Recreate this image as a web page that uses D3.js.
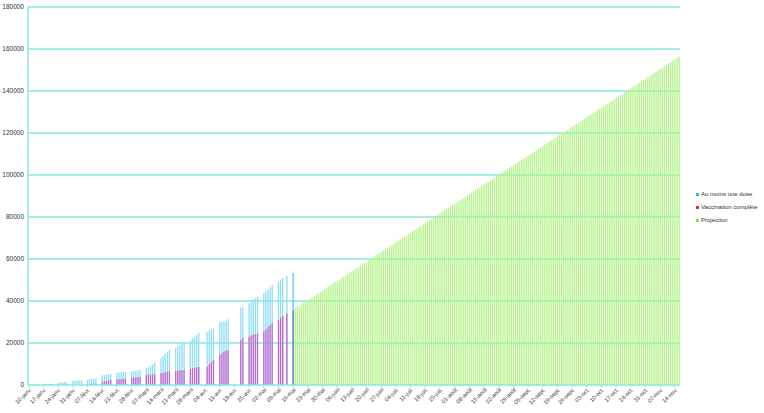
<!DOCTYPE html>
<html>
<head>
<meta charset="utf-8">
<script src="https://cdn.jsdelivr.net/npm/d3@7"></script>
<style>
  body { margin: 0; background: #fff; }
  svg { display: block; font-family: "Liberation Sans", "DejaVu Sans", sans-serif; }
</style>
</head>
<body>
<div id="chart"></div>
<script>
// jours avec au moins une donnée publiée
const doseDates = [
  "2021-01-10", "2021-01-11", "2021-01-12", "2021-01-13", "2021-01-14",
  "2021-01-17", "2021-01-18", "2021-01-19", "2021-01-20", "2021-01-21",
  "2021-01-24", "2021-01-25", "2021-01-26", "2021-01-27", "2021-01-28",
  "2021-01-31", "2021-02-01", "2021-02-02", "2021-02-03", "2021-02-04",
  "2021-02-07", "2021-02-08", "2021-02-09", "2021-02-10", "2021-02-11",
  "2021-02-14", "2021-02-15", "2021-02-16", "2021-02-17", "2021-02-18",
  "2021-02-21", "2021-02-22", "2021-02-23", "2021-02-24", "2021-02-25",
  "2021-02-28", "2021-03-01", "2021-03-02", "2021-03-03", "2021-03-04",
  "2021-03-07", "2021-03-08", "2021-03-09", "2021-03-10", "2021-03-11",
  "2021-03-14", "2021-03-15", "2021-03-16", "2021-03-17", "2021-03-18",
  "2021-03-21", "2021-03-22", "2021-03-23", "2021-03-24", "2021-03-25",
  "2021-03-28", "2021-03-29", "2021-03-30", "2021-03-31", "2021-04-01",
  "2021-04-05", "2021-04-06", "2021-04-07", "2021-04-08",
  "2021-04-11", "2021-04-12", "2021-04-13", "2021-04-14", "2021-04-15",
  "2021-04-21", "2021-04-22",
  "2021-04-25", "2021-04-26", "2021-04-27", "2021-04-28", "2021-04-29",
  "2021-05-02", "2021-05-03", "2021-05-04", "2021-05-05", "2021-05-06",
  "2021-05-09", "2021-05-10", "2021-05-11", "2021-05-13",
  "2021-05-16"
];

const auMoinsUneDose = [
  50, 80, 120, 150, 200,
  300, 380, 450, 520, 600,
  1000, 1150, 1300, 1450, 1550,
  2000, 2100, 2200, 2300, 2400,
  2700, 2800, 2950, 3050, 3150,
  4600, 4800, 5000, 5100, 5300,
  5800, 5900, 6000, 6100, 6200,
  6600, 6700, 6800, 6900, 7200,
  8100, 8600, 9200, 9800, 10500,
  12900, 13800, 14800, 15700, 16700,
  17600, 18300, 19000, 19800, 20500,
  21400, 22200, 23000, 23900, 24800,
  25400, 25900, 26500, 27000,
  29700, 30000, 30200, 30800, 31300,
  36800, 37300,
  39000, 39800, 40600, 41300, 42000,
  43800, 44700, 45700, 46600, 47600,
  49200, 50000, 51000, 52000,
  53300
];

const vaccinationComplete = [
  0, 0, 0, 0, 0,
  0, 0, 0, 0, 0,
  0, 0, 0, 0, 0,
  0, 0, 0, 0, 0,
  300, 400, 500, 600, 700,
  1500, 1800, 2000, 2200, 2400,
  2600, 2700, 2800, 2900, 3000,
  3300, 3500, 3600, 3700, 3800,
  4600, 4800, 5000, 5100, 5200,
  5700, 5900, 6100, 6300, 6500,
  6700, 6800, 6900, 7000, 7100,
  7600, 7900, 8100, 8400, 8600,
  8700, 9800, 10900, 11900,
  14300, 15000, 15900, 16300, 16700,
  21400, 22400,
  23000, 23500, 24000, 24300, 24600,
  25400, 26500, 27500, 28500, 29500,
  31000, 32000, 33000, 34000,
  35500
];

// projection quotidienne du 17 mai au 16 nov.
const projectionStart = "2021-05-17";
const projection = [
  36500, 37155, 37810, 38465, 39120, 39775, 40430, 41085, 41740, 42395,
  43050, 43705, 44360, 45015, 45670, 46325, 46980, 47635, 48290, 48945,
  49600, 50255, 50910, 51565, 52220, 52875, 53530, 54185, 54840, 55495,
  56150, 56805, 57460, 58115, 58770, 59425, 60080, 60735, 61390, 62045,
  62700, 63355, 64010, 64665, 65320, 65975, 66630, 67285, 67940, 68595,
  69250, 69905, 70560, 71215, 71870, 72525, 73180, 73835, 74490, 75145,
  75800, 76455, 77110, 77765, 78420, 79075, 79730, 80385, 81040, 81695,
  82350, 83005, 83660, 84315, 84970, 85625, 86280, 86935, 87590, 88245,
  88900, 89555, 90210, 90865, 91520, 92175, 92830, 93485, 94140, 94795,
  95450, 96105, 96760, 97415, 98070, 98725, 99380, 100035, 100690, 101345,
  102000, 102655, 103310, 103965, 104620, 105275, 105930, 106585, 107240, 107895,
  108550, 109205, 109860, 110515, 111170, 111825, 112480, 113135, 113790, 114445,
  115100, 115755, 116410, 117065, 117720, 118375, 119030, 119685, 120340, 120995,
  121650, 122305, 122960, 123615, 124270, 124925, 125580, 126235, 126890, 127545,
  128200, 128855, 129510, 130165, 130820, 131475, 132130, 132785, 133440, 134095,
  134750, 135405, 136060, 136715, 137370, 138025, 138680, 139335, 139990, 140645,
  141300, 141955, 142610, 143265, 143920, 144575, 145230, 145885, 146540, 147195,
  147850, 148505, 149160, 149815, 150470, 151125, 151780, 152435, 153090, 153745,
  154400, 155055, 155710, 156365
];

const xTickLabels = [
  "10-janv.", "17-janv.", "24-janv.", "31-janv.", "07-févr.", "14-févr.", "21-févr.",
  "28-févr.", "07-mars", "14-mars", "21-mars", "28-mars", "04-avr.", "11-avr.",
  "18-avr.", "25-avr.", "02-mai", "09-mai", "16-mai", "23-mai", "30-mai",
  "06-juin", "13-juin", "20-juin", "27-juin", "04-juil.", "11-juil.", "18-juil.",
  "25-juil.", "01-août", "08-août", "15-août", "22-août", "29-août", "05-sept.",
  "12-sept.", "19-sept.", "26-sept.", "03-oct.", "10-oct.", "17-oct.", "24-oct.",
  "31-oct.", "07-nov.", "14-nov."
];

const yTicks = [0, 20000, 40000, 60000, 80000, 100000, 120000, 140000, 160000, 180000];

const legendItems = [
  { label: "Au moins une dose", color: "#3cb4ec" },
  { label: "Vaccination complète", color: "#e8234e" },
  { label: "Projection", color: "#8fe043" }
];

const width = 764, height = 413;
const margin = { left: 28, right: 84, top: 7, bottom: 28 };

const parse = d3.utcParse("%Y-%m-%d");
const firstDay = parse("2021-01-10");
const projDates = d3.utcDay.range(parse(projectionStart), d3.utcDay.offset(parse(projectionStart), projection.length));
const allDays = d3.utcDay.range(firstDay, d3.utcDay.offset(projDates[projDates.length - 1], 1));

const x = d3.scaleBand()
    .domain(allDays.map(d => +d))
    .range([margin.left, width - margin.right])
    .paddingInner(0.38)
    .paddingOuter(0.1);

const y = d3.scaleLinear()
    .domain([0, 180000])
    .range([height - margin.bottom, margin.top]);

const svg = d3.select("#chart").append("svg")
    .attr("width", width)
    .attr("height", height);

const gridColor = "#86e8e0";

// grille horizontale
svg.append("g")
  .selectAll("line")
  .data(yTicks.slice(1))
  .enter()
  .append("line")
    .attr("x1", margin.left)
    .attr("x2", width - margin.right)
    .attr("y1", d => y(d))
    .attr("y2", d => y(d))
    .attr("stroke", gridColor)
    .attr("stroke-width", 1.4);

const doses = doseDates.map((d, i) => ({ date: parse(d), dose: auMoinsUneDose[i], complete: vaccinationComplete[i] }));
const proj = projDates.map((d, i) => ({ date: d, value: projection[i] }));

svg.append("g")
  .selectAll("rect")
  .data(doses)
  .enter()
  .append("rect")
    .attr("x", d => x(+d.date))
    .attr("width", x.bandwidth())
    .attr("y", d => y(d.dose))
    .attr("height", d => y(0) - y(d.dose))
    .attr("fill", (d, i) => i === doses.length - 1 ? "#5ec8f6" : "#92def6");

svg.append("g")
  .selectAll("rect")
  .data(doses.filter(d => d.complete > 0))
  .enter()
  .append("rect")
    .attr("x", d => x(+d.date))
    .attr("width", x.bandwidth())
    .attr("y", d => y(d.complete))
    .attr("height", d => y(0) - y(d.complete))
    .attr("fill", (d, i, n) => i === n.length - 1 ? "#6a6ad8" : "#cf52c6")
    .attr("opacity", 0.85);

svg.append("g")
    .attr("fill", "#b4f488")
  .selectAll("rect")
  .data(proj)
  .enter()
  .append("rect")
    .attr("x", d => x(+d.date))
    .attr("width", x.bandwidth())
    .attr("y", d => y(d.value))
    .attr("height", d => y(0) - y(d.value));

// axes
svg.append("line")
    .attr("x1", margin.left)
    .attr("x2", margin.left)
    .attr("y1", y(180000))
    .attr("y2", y(0))
    .attr("stroke", gridColor)
    .attr("stroke-width", 1.4);

svg.append("line")
    .attr("x1", margin.left)
    .attr("x2", width - margin.right)
    .attr("y1", y(0))
    .attr("y2", y(0))
    .attr("stroke", gridColor)
    .attr("stroke-width", 1.4);

svg.append("g")
  .selectAll("text")
  .data(yTicks)
  .enter()
  .append("text")
    .attr("x", margin.left - 4)
    .attr("y", d => y(d) + 2)
    .attr("text-anchor", "end")
    .attr("font-size", 6.5)
    .attr("fill", "#333")
    .text(d => d);

const weekTicks = xTickLabels.map((label, i) => ({ label, date: allDays[i * 7] }));

const xt = svg.append("g")
  .selectAll("g")
  .data(weekTicks)
  .enter()
  .append("g")
    .attr("transform", d => `translate(${x(+d.date) + x.bandwidth() / 2},${y(0)})`);

xt.append("line")
    .attr("y1", 0)
    .attr("y2", 2.5)
    .attr("stroke", gridColor);

xt.append("text")
    .attr("transform", "translate(3,5) rotate(-45)")
    .attr("text-anchor", "end")
    .attr("font-size", 5.8)
    .attr("fill", "#444")
    .text(d => d.label);

// légende
const legend = svg.append("g")
  .selectAll("g")
  .data(legendItems)
  .enter()
  .append("g")
    .attr("transform", (d, i) => `translate(696,${193 + i * 13})`);

legend.append("rect")
    .attr("width", 3)
    .attr("height", 3)
    .attr("fill", d => d.color);

legend.append("text")
    .attr("x", 5)
    .attr("y", 3.2)
    .attr("font-size", 6)
    .attr("fill", "#333")
    .text(d => d.label);
</script>
</body>
</html>
